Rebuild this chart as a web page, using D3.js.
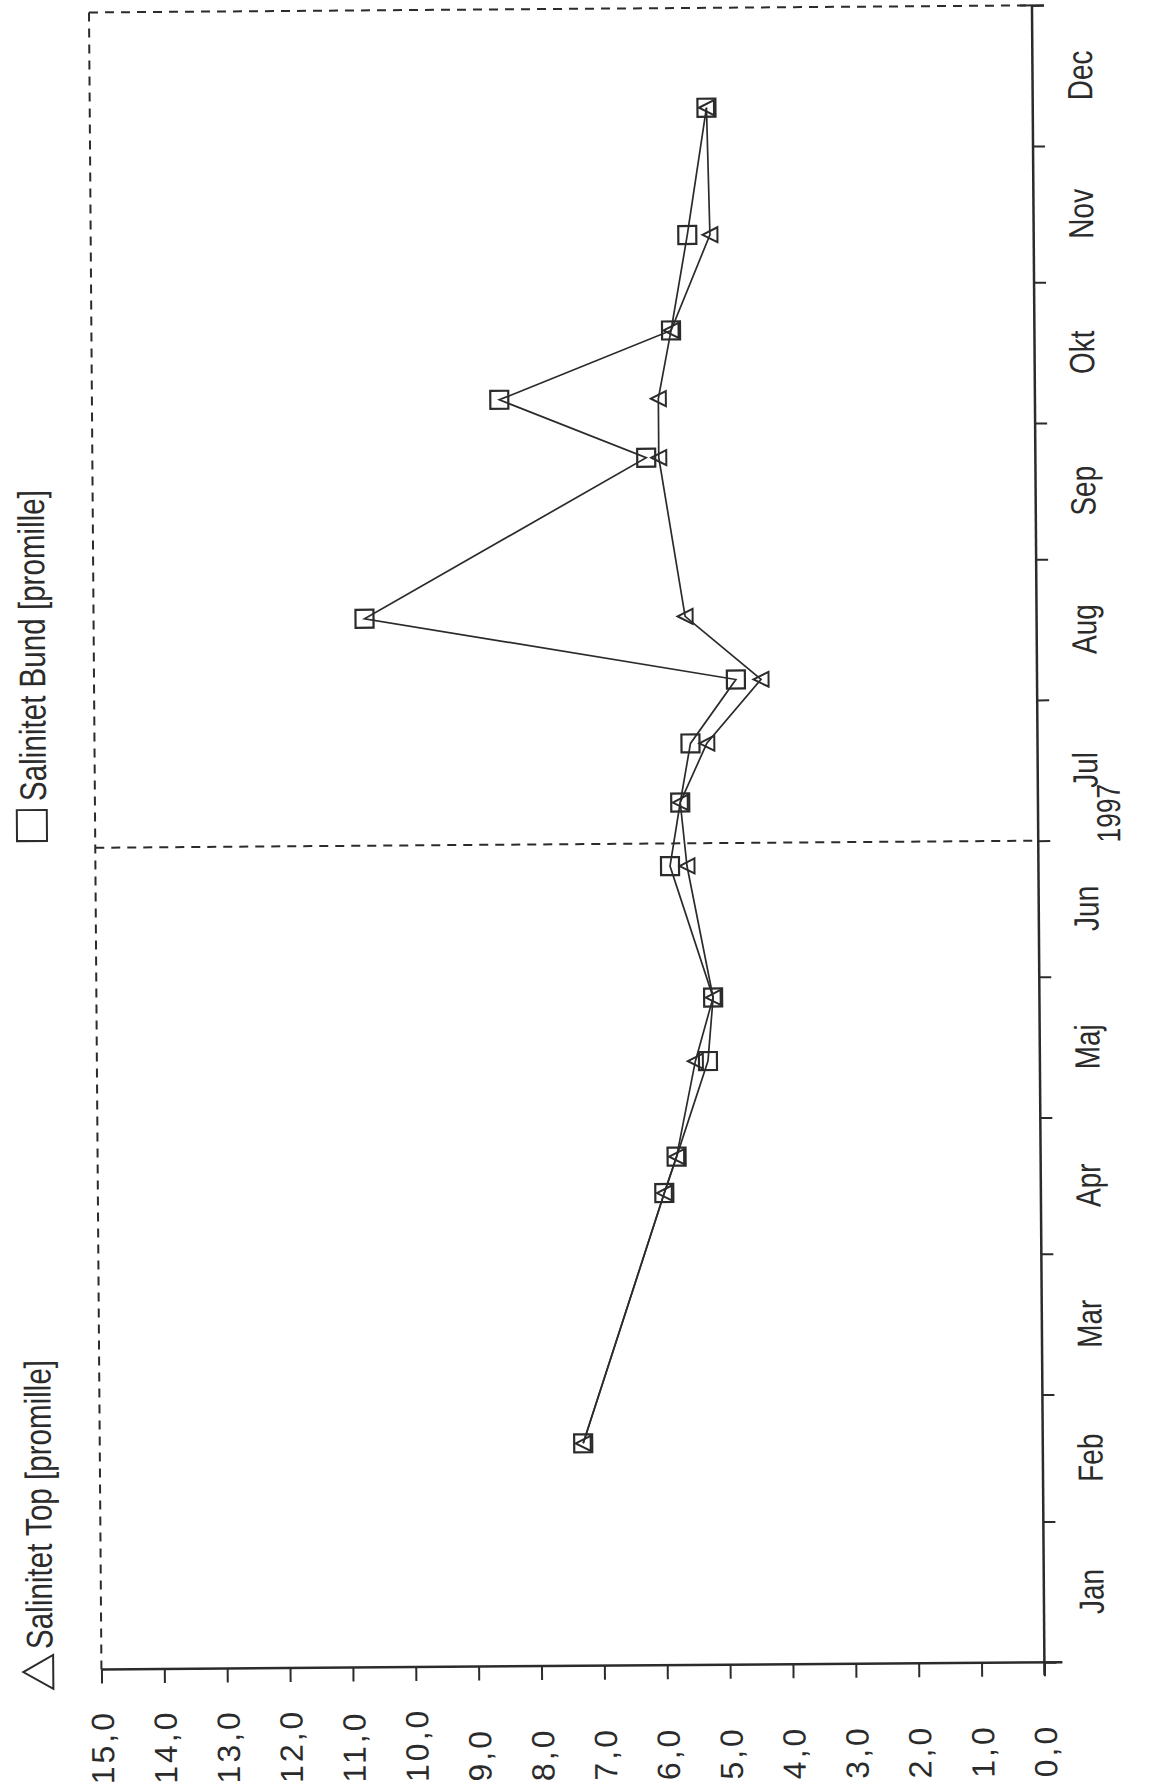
<!DOCTYPE html>
<html>
<head>
<meta charset="utf-8">
<script src="https://cdn.jsdelivr.net/npm/d3@7"></script>
<style>
body { margin: 0; background: #fff; }
svg { display: block; }
text { font-family: "Liberation Sans", Arial, sans-serif; fill: #2b2b2b; }
</style>
</head>
<body>
<div id="chart"></div>
<script>
(function() {

// data
const months = ["Jan", "Feb", "Mar", "Apr", "Maj", "Jun", "Jul", "Aug", "Sep", "Okt", "Nov", "Dec"];
const sampleDates = ["1997-02-19", "1997-04-15", "1997-04-23", "1997-05-14", "1997-05-28",
                     "1997-06-26", "1997-07-10", "1997-07-23", "1997-08-06", "1997-08-20",
                     "1997-09-24", "1997-10-07", "1997-10-22", "1997-11-12", "1997-12-10"];
const salTop  = [7.31, 5.99, 5.79, 5.48, 5.19, 5.59, 5.69, 5.26, 4.39, 5.59, 5.99, 5.99, 5.78, 5.15, 5.19];
const salBund = [7.31, 5.99, 5.79, 5.28, 5.19, 5.86, 5.69, 5.52, 4.79, 10.69, 6.19, 8.52, 5.78, 5.51, 5.19];
const salTicks = [0, 1, 2, 3, 4, 5, 6, 7, 8, 9, 10, 11, 12, 13, 14, 15];
const seriesNames = ["Salinitet Top [promille]", "Salinitet Bund [promille]"];
const yearLabel = "1997";

let W = 1160, H = 1787;
// plot frame (the page is turned on its side: salinity runs right->left, time runs bottom->top)
let left = 95.2, right = 1038.2, top = 8.9, bottom = 1665.9;
let ink = "#2b2b2b";
let narrow = 0.8;   // fake Arial Narrow

let parse = d3.timeParse("%Y-%m-%d");
let dates = sampleDates.map(parse);
let dataTop = dates.map((d, i) => ({date: d, v: salTop[i]}));
let dataBund = dates.map((d, i) => ({date: d, v: salBund[i]}));

let xScale = d3.scaleLinear().domain([15, 0]).range([left, right]);
let yScale = d3.scaleTime().domain([new Date(1997, 0, 1), new Date(1998, 0, 1)]).range([bottom, top]);

let svg = d3.select("#chart").append("svg")
    .attr("width", W)
    .attr("height", H);

svg.append("rect").attr("width", W).attr("height", H).attr("fill", "#fff");

// scan is a little crooked
let g = svg.append("g").attr("transform", "rotate(-0.43,567,837)");

// dashed frame + mid-year line
let dash = g.append("g")
    .attr("stroke", ink)
    .attr("stroke-width", 2)
    .attr("stroke-dasharray", "9,7")
    .attr("fill", "none");
dash.append("line").attr("x1", left).attr("x2", right).attr("y1", top).attr("y2", top);
dash.append("line").attr("x1", left).attr("x2", left).attr("y1", top).attr("y2", bottom);
let midYear = yScale(new Date(1997, 6, 1));
dash.append("line").attr("x1", left).attr("x2", right).attr("y1", midYear).attr("y2", midYear);

// salinity axis (bottom of the page)
let fmt = (d) => d3.format(".1f")(d).replace(".", ",");
let xAxis = g.append("g")
    .attr("class", "x axis")
    .attr("transform", "translate(0," + bottom + ")")
    .call(d3.axisBottom(xScale).tickValues(salTicks).tickSize(14).tickFormat(fmt));
xAxis.select(".domain").remove();
xAxis.selectAll(".tick line").attr("stroke", ink).attr("stroke-width", 2);
xAxis.selectAll(".tick text")
    .attr("transform", "rotate(-90)")
    .attr("x", -115)
    .attr("y", 0)
    .attr("dy", "0.36em")
    .attr("text-anchor", "start")
    .attr("font-size", 32)
    .attr("letter-spacing", 3)
    .attr("fill", ink);
g.append("line")
    .attr("x1", left).attr("x2", right + 18)
    .attr("y1", bottom).attr("y2", bottom)
    .attr("stroke", ink).attr("stroke-width", 2.5);

// time axis (right side of the page)
let yAxis = g.append("g")
    .attr("class", "y axis")
    .attr("transform", "translate(" + right + ",0)")
    .call(d3.axisRight(yScale).ticks(d3.timeMonth.every(1)).tickSize(12).tickFormat(""));
yAxis.select(".domain").remove();
yAxis.selectAll(".tick line").attr("stroke", ink).attr("stroke-width", 2);
g.append("line")
    .attr("x1", right).attr("x2", right)
    .attr("y1", top).attr("y2", bottom + 13)
    .attr("stroke", ink).attr("stroke-width", 2.5);
g.append("line")
    .attr("x1", right - 12).attr("x2", right + 12)
    .attr("y1", top).attr("y2", top)
    .attr("stroke", ink).attr("stroke-width", 2);

g.selectAll(".month")
    .data(months)
    .enter().append("text")
    .attr("class", "month")
    .attr("transform", (d, i) => {
        let a = new Date(1997, i, 1), b = new Date(1997, i + 1, 1);
        let y = yScale(new Date((+a + +b) / 2));
        return "translate(" + (right + 47) + "," + y + ") rotate(-90) scale(" + narrow + ",1)";
    })
    .attr("dy", "0.36em")
    .attr("text-anchor", "middle")
    .attr("font-size", 35)
    .text((d) => d);

g.append("text")
    .attr("transform", "translate(" + (right + 70) + "," + (midYear - 27) + ") rotate(-90) scale(" + narrow + ",1)")
    .attr("dy", "0.36em")
    .attr("text-anchor", "middle")
    .attr("font-size", 33)
    .text(yearLabel);

// series
let line = d3.line()
    .x((d) => xScale(d.v))
    .y((d) => yScale(d.date));

g.append("path").datum(dataBund)
    .attr("fill", "none").attr("stroke", ink).attr("stroke-width", 1.7)
    .attr("d", line);
g.append("path").datum(dataTop)
    .attr("fill", "none").attr("stroke", ink).attr("stroke-width", 1.7)
    .attr("d", line);

let sq = 18;
g.selectAll(".sq")
    .data(dataBund)
    .enter().append("rect")
    .attr("class", "sq")
    .attr("x", (d) => xScale(d.v) - sq / 2)
    .attr("y", (d) => yScale(d.date) - sq / 2)
    .attr("width", sq).attr("height", sq)
    .attr("fill", "none").attr("stroke", ink).attr("stroke-width", 2.2);

// triangle pointing left (upwards on the un-turned chart)
let tri = (cx, cy, w, h) => "M" + (cx - w / 2) + "," + cy +
    "L" + (cx + w / 2) + "," + (cy - h / 2) +
    "L" + (cx + w / 2) + "," + (cy + h / 2) + "Z";
g.selectAll(".tri")
    .data(dataTop)
    .enter().append("path")
    .attr("class", "tri")
    .attr("d", (d) => tri(xScale(d.v), yScale(d.date), 15, 15))
    .attr("fill", "none").attr("stroke", ink).attr("stroke-width", 2);

// legend
let lg = g.append("g");
lg.append("path")
    .attr("d", tri(32, 1668, 30, 34))
    .attr("fill", "none").attr("stroke", ink).attr("stroke-width", 2);
lg.append("text")
    .attr("transform", "translate(33,1645) rotate(-90) scale(" + narrow + ",1)")
    .attr("dy", "0.36em")
    .attr("font-size", 37)
    .text(seriesNames[0]);
lg.append("rect")
    .attr("x", 17).attr("y", 806).attr("width", 30).attr("height", 31)
    .attr("fill", "none").attr("stroke", ink).attr("stroke-width", 2);
lg.append("text")
    .attr("transform", "translate(33,797) rotate(-90) scale(" + narrow + ",1)")
    .attr("dy", "0.36em")
    .attr("font-size", 37)
    .text(seriesNames[1]);

})();
</script>
</body>
</html>
